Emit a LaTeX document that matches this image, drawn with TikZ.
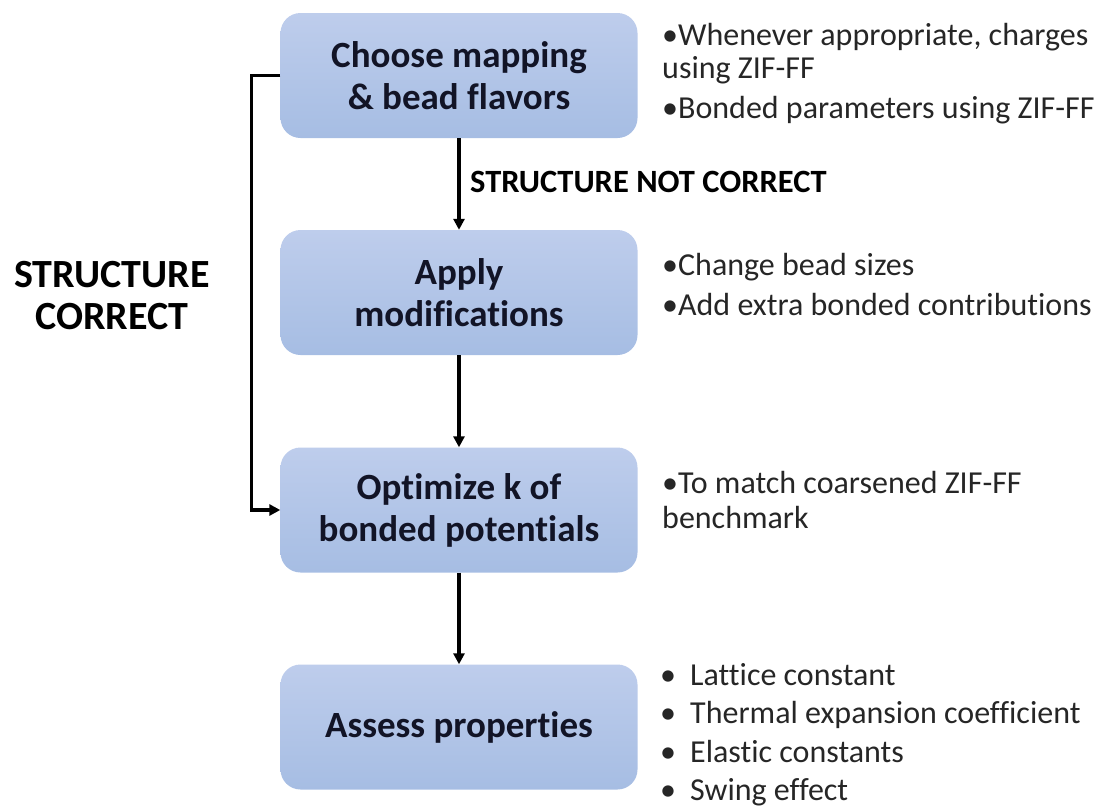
\documentclass[tikz,border=0pt]{standalone}
\usepackage{fontspec}
\setmainfont[Ligatures=NoCommon]{Carlito}
\usetikzlibrary{arrows.meta}
\definecolor{boxtop}{RGB}{190,205,236}
\definecolor{boxbot}{RGB}{166,189,227}
\definecolor{ink}{RGB}{18,20,38}
\definecolor{gtext}{RGB}{38,38,38}
\begin{document}
\begin{tikzpicture}[x=1pt,y=-1pt,
  stepbox/.style={rectangle, rounded corners=20pt, top color=boxtop, bottom color=boxbot, draw=none,
    minimum width=357pt, minimum height=125pt, align=center,
    font=\fontsize{37}{42}\selectfont\bfseries, text=ink, inner sep=0pt},
  arr/.style={-{Triangle[length=11pt,width=11pt]}, line width=3.4pt, draw=black},
  note/.style={anchor=base west, font=\fontsize{32}{35}\selectfont, text=gtext, inner sep=0pt},
  lbl/.style={font=\fontsize{32.5}{38}\selectfont\bfseries, text=black, inner sep=0pt}]
\useasboundingbox (0,0) rectangle (1099,807);
\node[stepbox] (b1) at (459,75.5) {Choose mapping\\\& bead flavors};
\node[stepbox] (b2) at (459,292.5) {Apply\\modifications};
\node[stepbox] (b3) at (459,510) {Optimize k of\\bonded potentials};
\node[stepbox] (b4) at (459,727) {Assess properties};
\draw[arr] (b1.south) -- (b2.north);
\draw[arr] (b2.south) -- (b3.north);
\draw[arr] (b3.south) -- (b4.north);
\draw[arr] (b1.west) -- ++(-29,0) |- (b3.west);
\node[lbl, anchor=west] (nc) at (470,182) {STRUCTURE NOT CORRECT};
\node[lbl, font=\fontsize{40}{42}\selectfont\bfseries, align=center] (sc) at (112,296) {STRUCTURE\\CORRECT};
\node[note] (n1a) at (662,45) {•Whenever appropriate, charges};
\node[note] (n1b) at (662,78) {using ZIF-FF};
\node[note] (n1c) at (662,118) {•Bonded parameters using ZIF-FF};
\node[note] (n2a) at (662,275) {•Change bead sizes};
\node[note] (n2b) at (662,315) {•Add extra bonded contributions};
\node[note] (n3a) at (662,493) {•To match coarsened ZIF-FF};
\node[note] (n3b) at (662,528) {benchmark};
\node[note] (l1) at (660,685) {\makebox[30pt][l]{•}Lattice constant};
\node[note] (l2) at (660,723) {\makebox[30pt][l]{•}Thermal expansion coefficient};
\node[note] (l3) at (660,762) {\makebox[30pt][l]{•}Elastic constants};
\node[note] (l4) at (660,800) {\makebox[30pt][l]{•}Swing effect};
\end{tikzpicture}
\end{document}
